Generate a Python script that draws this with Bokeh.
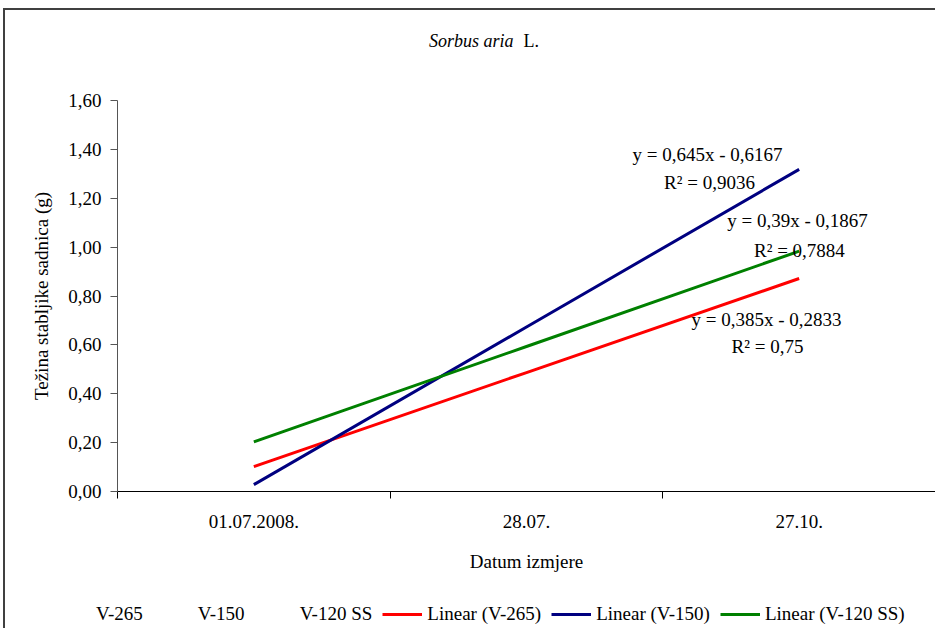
from bokeh.plotting import figure
from bokeh.layouts import column
from bokeh.models import (Range1d, FixedTicker, CustomJSTickFormatter, Label,
                          Legend, LegendItem, ColumnDataSource)
from bokeh.core.properties import value
from bokeh.embed import file_html
from bokeh.resources import INLINE

# ---- data ----
categories = ["01.07.2008.", "28.07.", "27.10."]
series = ["V-265", "V-150", "V-120 SS"]
slopes = [0.385, 0.645, 0.39]
intercepts = [-0.2833, -0.6167, -0.1867]
r_squared = ["0,75", "0,9036", "0,7884"]
eq_texts = ["y = 0,385x - 0,2833", "y = 0,645x - 0,6167", "y = 0,39x - 0,1867"]
colors = ["#FF0000", "#000080", "#008000"]
y_ticks = [0.0, 0.2, 0.4, 0.6, 0.8, 1.0, 1.2, 1.4, 1.6]

# label positions (data coords) for the trendline equations
eq_x = [2.880, 2.664, 2.994]
eq_y = [0.704, 1.379, 1.109]
r2_x = [2.884, 2.671, 3.001]
r2_y = [0.593, 1.264, 0.986]

FONT = "Liberation Serif"
FS = "19px"
BORDER = "2px solid #404040"
W = 932
NAN = float("nan")


def strip(height):
    f = figure(width=W, height=height, output_backend="svg", toolbar_location=None,
               x_range=Range1d(0, W), y_range=Range1d(0, height),
               x_axis_location=None, y_axis_location=None,
               min_border=0, min_border_left=0, min_border_right=0,
               min_border_top=0, min_border_bottom=0)
    f.frame_align = False
    f.outline_line_color = None
    f.xgrid.visible = False
    f.ygrid.visible = False
    return f


# ---- title strip ----
TH = 60
t = strip(TH)
t.styles = {"border-top": BORDER, "border-left": BORDER,
            "margin-left": "3px", "margin-top": "8px"}
t.add_layout(Label(x=508, y=TH - 30, text="Sorbus aria", text_align="right",
                   text_baseline="middle", text_font=FONT, text_font_size="18px",
                   text_font_style="italic", text_color="black"))
t.add_layout(Label(x=518, y=TH - 30, text="L.", text_align="left",
                   text_baseline="middle", text_font=FONT, text_font_size="18px",
                   text_color="black"))

# ---- main chart ----
p = figure(width=W, height=520, output_backend="svg", toolbar_location=None,
           x_range=Range1d(0.5, 3.5), y_range=Range1d(0, 1.6),
           min_border_left=112, min_border_right=2, min_border_top=32,
           min_border_bottom=97)
p.frame_align = False
p.styles = {"border-left": BORDER, "margin-left": "3px"}
p.outline_line_color = None
p.xgrid.visible = False
p.ygrid.visible = False

xs = list(range(1, len(categories) + 1))

for s, a, b, c in zip(series, slopes, intercepts, colors):
    ys = [a * x + b for x in xs]
    p.line(xs, ys, line_color=c, line_width=3)

src = ColumnDataSource(dict(x=eq_x + r2_x, y=eq_y + r2_y,
                            t=eq_texts + ["R\u00b2 = " + v for v in r_squared]))
p.text("x", "y", text="t", source=src, text_font=value(FONT), text_font_size=FS,
       text_align="center", text_baseline="middle", text_color="black")

xa = p.xaxis[0]
xa.ticker = FixedTicker(ticks=xs, minor_ticks=[0.5, 1.5, 2.5, 3.5])
xa.major_label_overrides = {x: c for x, c in zip(xs, categories)}
xa.major_tick_line_color = None
xa.major_tick_out = 0
xa.major_tick_in = 0
xa.minor_tick_out = 7
xa.minor_tick_in = 0
xa.minor_tick_line_color = "black"
xa.axis_line_color = "black"
xa.major_label_standoff = 16
xa.major_label_text_font = FONT
xa.major_label_text_font_size = FS
xa.major_label_text_color = "black"
xa.axis_label = "Datum izmjere"
xa.axis_label_text_font = FONT
xa.axis_label_text_font_size = FS
xa.axis_label_text_font_style = "normal"
xa.axis_label_text_color = "black"
xa.axis_label_standoff = 20

ya = p.yaxis[0]
ya.ticker = FixedTicker(ticks=y_ticks, minor_ticks=[])
ya.formatter = CustomJSTickFormatter(code="return tick.toFixed(2).replace('.', ',');")
ya.major_tick_out = 7
ya.major_tick_in = 0
ya.minor_tick_line_color = None
ya.major_tick_line_color = "#555555"
ya.axis_line_color = "#555555"
ya.major_label_standoff = 9
ya.major_label_text_font = FONT
ya.major_label_text_font_size = FS
ya.major_label_text_color = "black"
ya.axis_label = "Težina stabljike sadnica (g)"
ya.axis_label_text_font = FONT
ya.axis_label_text_font_size = FS
ya.axis_label_text_font_style = "normal"
ya.axis_label_text_color = "black"
ya.axis_label_standoff = 13

# ---- legend strip ----
LH = 40
lg = strip(LH)
lg.styles = {"border-left": BORDER, "margin-left": "3px"}
items = []
for s in series:
    r = lg.line([NAN], [NAN], line_alpha=0)
    items.append(LegendItem(label=s, renderers=[r]))
for s, c in zip(series, colors):
    r = lg.line([NAN], [NAN], line_color=c, line_width=3)
    items.append(LegendItem(label="Linear (%s)" % s, renderers=[r]))
legend = Legend(items=items, orientation="horizontal", location=(46, 3),
                glyph_width=40, glyph_height=20, label_standoff=5, spacing=10,
                padding=0, margin=0, border_line_color=None,
                background_fill_alpha=0, label_text_font=FONT,
                label_text_font_size=FS, label_text_color="black",
                label_height=20)
lg.add_layout(legend, "center")

layout = column(t, p, lg, spacing=0)
open("out.html", "w").write(file_html(layout, INLINE))
